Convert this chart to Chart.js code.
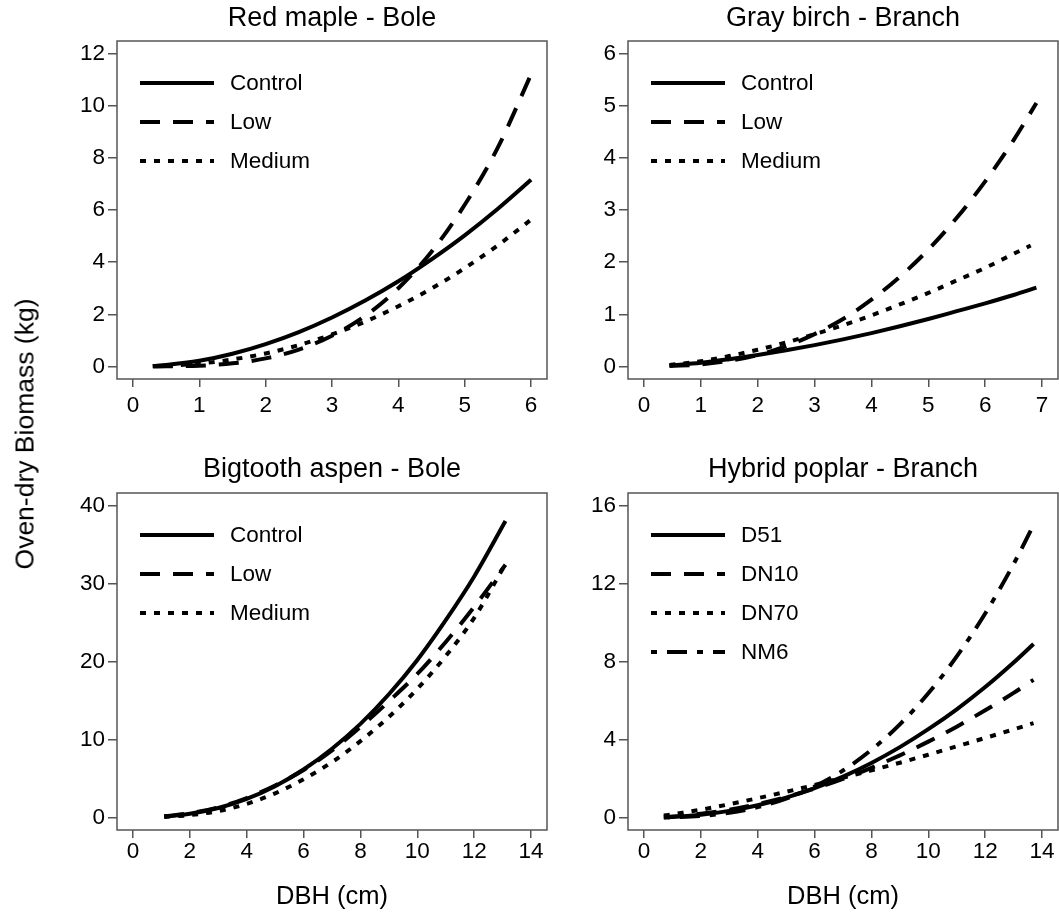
<!DOCTYPE html>
<html>
<head>
<meta charset="utf-8">
<script src="https://cdn.jsdelivr.net/npm/chart.js@4"></script>
<style>
    body { margin: 0; background: #fff; }
    #wrap { position: relative; width: 1059px; height: 918px; }
    canvas { position: absolute; }
    #ylab {
        position: absolute; left: 25px; top: 434px; width: 400px;
        transform: translate(-50%, -50%) rotate(-90deg);
        text-align: center; white-space: nowrap;
        font: 26.5px Arial, "Liberation Sans", sans-serif; color: #000;
    }
</style>
</head>
<body>
<div id="wrap">
    <canvas id="c1" width="570" height="450" style="left:0;top:0"></canvas>
    <canvas id="c2" width="489" height="450" style="left:570px;top:0"></canvas>
    <canvas id="c3" width="570" height="468" style="left:0;top:450px"></canvas>
    <canvas id="c4" width="489" height="468" style="left:570px;top:450px"></canvas>
    <div id="ylab">Oven-dry Biomass (kg)</div>
</div>
<script>
// values
const mapleX = [0.3, 0.5, 1, 1.5, 2, 2.5, 3, 3.5, 4, 4.5, 5, 5.5, 6];
const mapleControl = [0.02, 0.06, 0.22, 0.49, 0.86, 1.32, 1.88, 2.53, 3.27, 4.11, 5.03, 6.05, 7.16];
const mapleLow = [0.0, 0.01, 0.03, 0.12, 0.31, 0.65, 1.18, 1.94, 3.0, 4.4, 6.2, 8.4, 11.2];
const mapleMedium = [0.02, 0.03, 0.11, 0.27, 0.5, 0.82, 1.23, 1.72, 2.31, 2.99, 3.77, 4.65, 5.63];

const birchX = [0.45, 1, 1.5, 2, 2.5, 3, 3.5, 4, 4.5, 5, 5.5, 6, 6.5, 6.9];
const birchMediumX = [0.45, 1, 1.5, 2, 2.5, 3, 3.5, 4, 4.5, 5, 5.5, 6, 6.5, 6.8];
const birchControl = [0.02, 0.07, 0.14, 0.22, 0.31, 0.41, 0.52, 0.64, 0.77, 0.91, 1.06, 1.21, 1.37, 1.51];
const birchLow = [0.01, 0.04, 0.11, 0.22, 0.39, 0.62, 0.91, 1.28, 1.72, 2.24, 2.85, 3.55, 4.34, 5.05];
const birchMedium = [0.03, 0.1, 0.2, 0.32, 0.46, 0.62, 0.79, 0.98, 1.19, 1.41, 1.65, 1.89, 2.16, 2.32];

const aspenX = [1.1, 2, 3, 4, 5, 6, 7, 8, 9, 10, 11, 12, 13.1];
const aspenControl = [0.12, 0.48, 1.22, 2.39, 4.02, 6.15, 8.81, 12.0, 15.8, 20.2, 25.3, 30.9, 38.0];
const aspenLow = [0.15, 0.55, 1.3, 2.5, 4.1, 6.1, 8.6, 11.6, 14.9, 18.4, 22.5, 27.0, 32.4];
const aspenMedium = [0.07, 0.31, 0.83, 1.75, 3.1, 4.9, 7.1, 9.8, 12.9, 16.5, 20.7, 25.6, 32.5];

const poplarX = [0.7, 1, 2, 3, 4, 5, 6, 7, 8, 9, 10, 11, 12, 13, 13.7];
const poplarD51 = [0.02, 0.03, 0.14, 0.34, 0.63, 1.02, 1.51, 2.1, 2.8, 3.61, 4.53, 5.55, 6.69, 7.95, 8.9];
const poplarDN10 = [0.03, 0.05, 0.19, 0.4, 0.69, 1.05, 1.48, 1.98, 2.55, 3.19, 3.89, 4.66, 5.5, 6.39, 7.06];
const poplarDN70 = [0.1, 0.17, 0.4, 0.68, 0.99, 1.32, 1.67, 2.04, 2.42, 2.81, 3.22, 3.65, 4.08, 4.52, 4.84];
const poplarNM6 = [0.0, 0.01, 0.08, 0.24, 0.53, 0.97, 1.59, 2.41, 3.47, 4.78, 6.37, 8.26, 10.46, 13.0, 15.0];

const mapleYTicks = [0, 2, 4, 6, 8, 10, 12];
const mapleXTicks = [0, 1, 2, 3, 4, 5, 6];
const birchYTicks = [0, 1, 2, 3, 4, 5, 6];
const birchXTicks = [0, 1, 2, 3, 4, 5, 6, 7];
const aspenYTicks = [0, 10, 20, 30, 40];
const poplarYTicks = [0, 4, 8, 12, 16];
const bigXTicks = [0, 2, 4, 6, 8, 10, 12, 14];

const FONT = 'Arial, "Liberation Sans", sans-serif';
Chart.defaults.font.family = FONT;
Chart.defaults.color = '#000';

const SOLID = [];
const DASHED = [20, 13];
const DOTTED = [6, 8];
const DOTDASH = [6, 10, 20, 10];

function series(label, xs, ys, dash) {
    return {
        label: label,
        data: xs.map((x, i) => ({x: x, y: ys[i]})),
        borderColor: '#000',
        borderWidth: 4,
        borderDash: dash,
        pointRadius: 0,
        cubicInterpolationMode: 'monotone',
        fill: false
    };
}

// box round the plot area
const boxPlugin = {
    id: 'box',
    afterDraw(chart) {
        const a = chart.chartArea;
        const ctx = chart.ctx;
        ctx.save();
        ctx.strokeStyle = '#555';
        ctx.lineWidth = 1.5;
        ctx.strokeRect(a.left, a.top, a.right - a.left, a.bottom - a.top);
        ctx.restore();
    }
};

// legend drawn inside the top-left corner
const innerLegend = {
    id: 'innerLegend',
    afterDatasetsDraw(chart) {
        const a = chart.chartArea;
        const ctx = chart.ctx;
        ctx.save();
        ctx.font = '22.5px ' + FONT;
        ctx.textBaseline = 'middle';
        ctx.fillStyle = '#000';
        chart.data.datasets.forEach((ds, i) => {
            const y = a.top + 42 + i * 39;
            const x0 = a.left + 23;
            ctx.beginPath();
            ctx.setLineDash(ds.borderDash);
            ctx.lineWidth = ds.borderWidth;
            ctx.strokeStyle = ds.borderColor;
            ctx.moveTo(x0, y);
            ctx.lineTo(x0 + 74, y);
            ctx.stroke();
            ctx.fillText(ds.label, a.left + 113, y + 1);
        });
        ctx.restore();
    }
};

function panel(id, title, datasets, xTicks, yTicks, xMax, yMax, opts) {
    const tickList = arr => arr.map(v => ({value: v}));
    new Chart(document.getElementById(id), {
        type: 'line',
        data: {datasets: datasets},
        plugins: [boxPlugin, innerLegend],
        options: {
            responsive: false,
            animation: false,
            layout: {padding: {left: 0, right: opts.padRight, top: 0, bottom: 0}},
            plugins: {
                legend: {display: false},
                tooltip: {enabled: false},
                title: {
                    display: true,
                    text: title,
                    fullSize: false,
                    font: {size: 27, weight: 'normal'},
                    padding: {top: opts.titleTop, bottom: opts.titleBottom}
                }
            },
            scales: {
                x: {
                    type: 'linear',
                    min: -0.04 * xMax,
                    max: 1.04 * xMax,
                    afterBuildTicks: s => { s.ticks = tickList(xTicks); },
                    afterFit: s => { s.height = opts.xHeight; },
                    border: {display: false},
                    grid: {drawOnChartArea: false, tickLength: 8, color: '#555', lineWidth: 1.5},
                    ticks: {font: {size: 22.5}, padding: opts.xPad, maxRotation: 0, autoSkip: false},
                    title: {
                        display: opts.xTitle,
                        text: 'DBH (cm)',
                        font: {size: 25.5},
                        padding: {top: 0, bottom: 6}
                    }
                },
                y: {
                    type: 'linear',
                    min: -0.04 * yMax,
                    max: 1.04 * yMax,
                    afterBuildTicks: s => { s.ticks = tickList(yTicks); },
                    afterFit: s => { s.width = opts.yWidth; },
                    border: {display: false},
                    grid: {drawOnChartArea: false, tickLength: 9, color: '#555', lineWidth: 1.5},
                    ticks: {font: {size: 22.5}, padding: 3, autoSkip: false}
                }
            }
        }
    });
}

const topRow = {titleTop: 2, titleBottom: 6.6, xHeight: 71, xPad: 5, xTitle: false};
const bottomRow = {titleTop: 3.8, titleBottom: 6.8, xHeight: 88, xPad: 0, xTitle: true};

panel('c1', 'Red maple - Bole', [
    series('Control', mapleX, mapleControl, SOLID),
    series('Low', mapleX, mapleLow, DASHED),
    series('Medium', mapleX, mapleMedium, DOTTED)
], mapleXTicks, mapleYTicks, 6, 12, Object.assign({yWidth: 117, padRight: 23}, topRow));

panel('c2', 'Gray birch - Branch', [
    series('Control', birchX, birchControl, SOLID),
    series('Low', birchX, birchLow, DASHED),
    series('Medium', birchMediumX, birchMedium, DOTTED)
], birchXTicks, birchYTicks, 7, 6, Object.assign({yWidth: 58, padRight: 1}, topRow));

panel('c3', 'Bigtooth aspen - Bole', [
    series('Control', aspenX, aspenControl, SOLID),
    series('Low', aspenX, aspenLow, DASHED),
    series('Medium', aspenX, aspenMedium, DOTTED)
], bigXTicks, aspenYTicks, 14, 40, Object.assign({yWidth: 117, padRight: 23}, bottomRow));

panel('c4', 'Hybrid poplar - Branch', [
    series('D51', poplarX, poplarD51, SOLID),
    series('DN10', poplarX, poplarDN10, DASHED),
    series('DN70', poplarX, poplarDN70, DOTTED),
    series('NM6', poplarX, poplarNM6, DOTDASH)
], bigXTicks, poplarYTicks, 14, 16, Object.assign({yWidth: 58, padRight: 1}, bottomRow));
</script>
</body>
</html>
